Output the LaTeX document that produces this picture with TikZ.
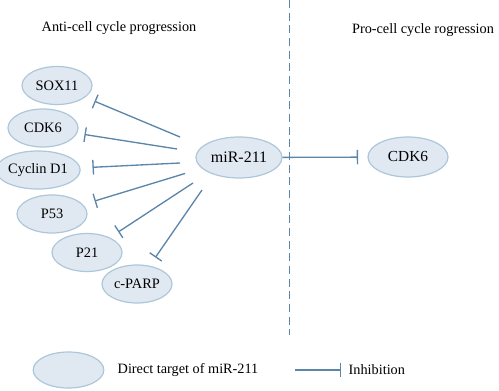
\documentclass[tikz,border=0pt]{standalone}
\usepackage{fontspec}
\setmainfont{Liberation Serif}
\usepackage{tikz}
\usetikzlibrary{positioning, arrows.meta, shapes.geometric}
\definecolor{myFill}{HTML}{E0E9F2}
\definecolor{myEdge}{HTML}{ADC6DA}
\definecolor{myLine}{HTML}{5B86AA}

\begin{document}
\begin{tikzpicture}[x=0.75pt, y=-0.75pt,
  target/.style={ellipse, draw=myEdge, fill=myFill, line width=0.9pt,
                 minimum width=52.5pt, minimum height=28.5pt, inner sep=0pt,
                 font=\fontsize{10.8}{13}\selectfont},
  inhib/.style={-{Bar[width=11pt]}, myLine, line width=1pt},
  head/.style={font=\fontsize{10.7}{13}\selectfont}
]
\useasboundingbox (0,0) rectangle (499,391);
\node[head] (anti) at (119,28) {Anti-cell cycle progression};
\node[head] (pro) at (423,30) {Pro-cell cycle rogression};
\coordinate (divtop) at (289.5,0);
\coordinate (divbot) at (289.5,335);
\draw[myLine, line width=1pt, dash pattern=on 6pt off 3.5pt] (divtop) -- (divbot);

\node[target] (sox) at (57,85.5) {SOX11};
\node[target] (cdkl) at (43,128) {CDK6};
\node[target] (ccnd) at (38,170) {Cyclin D1};
\node[target] (p53) at (52,214) {P53};
\node[target] (p21) at (87,252.5) {P21};
\node[target] (parp) at (137,284) {c-PARP};
\node[target, minimum width=64.5pt, minimum height=30.75pt,
      font=\fontsize{12}{14}\selectfont] (mir) at (239,157.5) {miR-211};
\node[target, minimum width=60pt, minimum height=30pt,
      font=\fontsize{11.5}{14}\selectfont] (cdkr) at (408,157) {CDK6};

\coordinate (s1) at (180,137);
\coordinate (s2) at (177,149);
\coordinate (s3) at (180,163);
\coordinate (s4) at (185,173.5);
\coordinate (s5) at (193,183);
\coordinate (s6) at (202,190);
\draw[inhib, shorten >=7.5pt] (s1) -- (sox);
\draw[inhib, shorten >=5.5pt] (s2) -- (cdkl);
\draw[inhib, shorten >=9pt] (s3) -- (ccnd);
\draw[inhib, shorten >=9pt] (s4) -- (p53);
\draw[inhib, shorten >=7.5pt] (s5) -- (p21);
\draw[inhib, shorten >=7.5pt] (s6) -- (parp);
\draw[inhib, shorten >=7pt] (mir) -- (cdkr);

\node[target, minimum width=53pt, minimum height=27pt] (lgell) at (68.5,370) {};
\node[head, anchor=west] (lgtarget) at (113,370) {Direct target of miR-211};
\coordinate (lgstart) at (295,370);
\node[head, anchor=west] (lginhib) at (344,370) {Inhibition};
\draw[inhib, shorten >=2pt] (lgstart) -- (lginhib.west);
\end{tikzpicture}
\end{document}
